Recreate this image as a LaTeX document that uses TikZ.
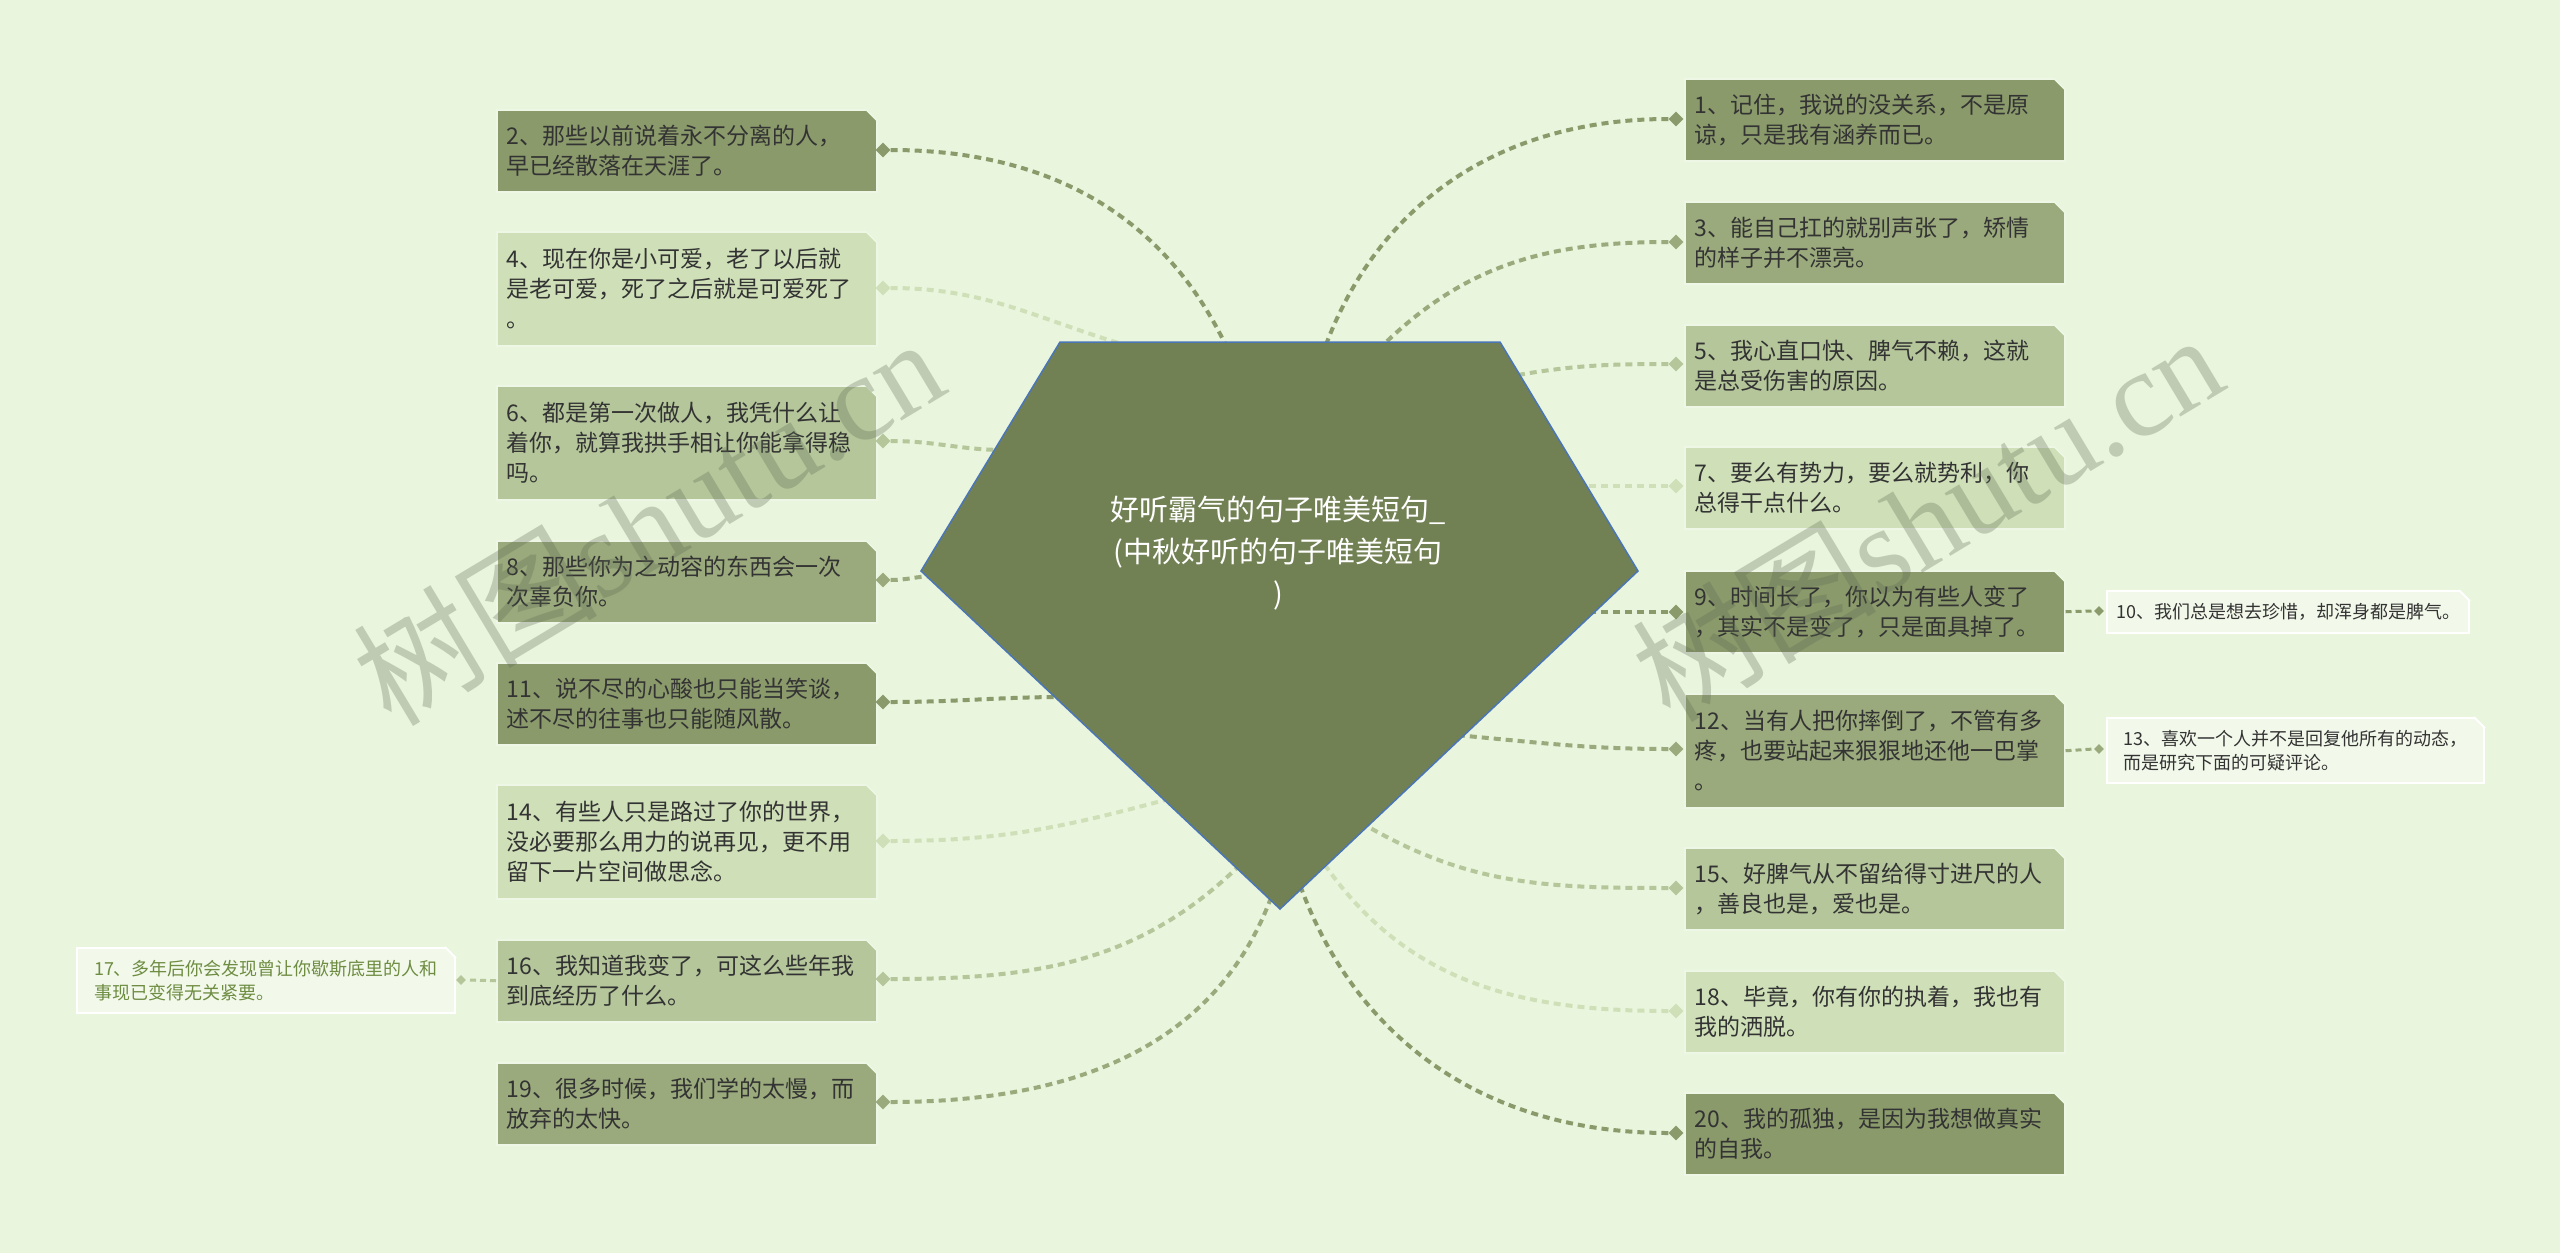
\documentclass[tikz,border=0pt]{standalone}
\usepackage{fontspec}
\setmainfont{Noto Sans CJK SC}
\newfontfamily\wmserif{Liberation Serif}
\usetikzlibrary{shapes.geometric}
\definecolor{bgc}{HTML}{E9F5DC}
\definecolor{cdark}{HTML}{8A9A6B}
\definecolor{colive}{HTML}{9AAA7C}
\definecolor{cmid}{HTML}{B4C69A}
\definecolor{clight}{HTML}{CFE0B8}
\definecolor{croot}{HTML}{718153}
\definecolor{cedge}{HTML}{4A76B8}
\definecolor{ctext}{HTML}{333333}
\definecolor{cbord}{HTML}{EEF6E6}
\definecolor{cgreentext}{HTML}{6E8C42}
\definecolor{cwm}{HTML}{5E6A52}
\newcommand\chamf[1]{%
  \fill[bgc] ([xshift=-12pt]#1.north east) -- ([xshift=1pt,yshift=1pt]#1.north east) -- ([yshift=-12pt]#1.north east) -- cycle;
  \draw[cbord, line width=1.5pt] ([xshift=-12pt]#1.north east) -- ([yshift=-12pt]#1.north east);}
\tikzset{
  box/.style={rectangle, draw=cbord, line width=1.5pt, text=ctext, text width=360pt,
    inner xsep=10pt, inner ysep=0pt, align=left, anchor=north west,
    font=\fontsize{23}{30}\selectfont},
  two/.style={minimum height=82pt},
  three/.style={minimum height=114pt},
  smallbox/.style={rectangle, draw=white, line width=2pt, fill=bgc!60!white, text=ctext,
    inner xsep=9pt, inner ysep=0pt, align=left, anchor=north west,
    font=\fontsize{18}{24}\selectfont},
  dia/.style={diamond, inner sep=0pt, minimum size=15pt},
  sdia/.style={diamond, inner sep=0pt, minimum size=10pt},
  link/.style={line width=4pt, dash pattern=on 7pt off 5pt},
  slink/.style={line width=3pt, dash pattern=on 6pt off 4pt},
  wm/.style={text=cwm, opacity=0.3, rotate=31, font=\fontsize{122}{122}\selectfont}
}
\begin{document}
\begin{tikzpicture}[x=1pt,y=-1pt]
\useasboundingbox (0,0) rectangle (2560,1253);
\fill[bgc] (0,0) rectangle (2560,1253);

% ---------- left nodes ----------
\node[box,two,fill=cdark] (n2) at (496,109) {2、那些以前说着永不分离的人，\\早已经散落在天涯了。};
\node[box,three,fill=clight] (n4) at (496,231) {4、现在你是小可爱，老了以后就\\是老可爱，死了之后就是可爱死了\\。};
\node[box,three,fill=cmid] (n6) at (496,385) {6、都是第一次做人，我凭什么让\\着你，就算我拱手相让你能拿得稳\\吗。};
\node[box,two,fill=colive] (n8) at (496,540) {8、那些你为之动容的东西会一次\\次辜负你。};
\node[box,two,fill=cdark] (n11) at (496,662) {11、说不尽的心酸也只能当笑谈，\\述不尽的往事也只能随风散。};
\node[box,three,fill=clight] (n14) at (496,784) {14、有些人只是路过了你的世界，\\没必要那么用力的说再见，更不用\\留下一片空间做思念。};
\node[box,two,fill=cmid] (n16) at (496,939) {16、我知道我变了，可这么些年我\\到底经历了什么。};
\node[box,two,fill=colive] (n19) at (496,1062) {19、很多时候，我们学的太慢，而\\放弃的太快。};

% ---------- right nodes ----------
\node[box,two,fill=cdark] (n1) at (1684,78) {1、记住，我说的没关系，不是原\\谅，只是我有涵养而已。};
\node[box,two,fill=colive] (n3) at (1684,201) {3、能自己扛的就别声张了，矫情\\的样子并不漂亮。};
\node[box,two,fill=cmid] (n5) at (1684,324) {5、我心直口快、脾气不赖，这就\\是总受伤害的原因。};
\node[box,two,fill=clight] (n7) at (1684,446) {7、要么有势力，要么就势利，你\\总得干点什么。};
\node[box,two,fill=cdark] (n9) at (1684,570) {9、时间长了，你以为有些人变了\\，其实不是变了，只是面具掉了。};
\node[box,three,fill=colive] (n12) at (1684,693) {12、当有人把你摔倒了，不管有多\\疼，也要站起来狠狠地还他一巴掌\\。};
\node[box,two,fill=cmid] (n15) at (1684,847) {15、好脾气从不留给得寸进尺的人\\，善良也是，爱也是。};
\node[box,two,fill=clight] (n18) at (1684,970) {18、毕竟，你有你的执着，我也有\\我的洒脱。};
\node[box,two,fill=cdark] (n20) at (1684,1092) {20、我的孤独，是因为我想做真实\\的自我。};

\foreach \n in {n1,n2,n3,n4,n5,n6,n7,n8,n9,n11,n12,n14,n15,n16,n18,n19,n20}{\chamf{\n}}

% ---------- small nodes ----------
\node[smallbox,minimum width=362pt,minimum height=42pt] (n10) at (2106,590) {10、我们总是想去珍惜，却浑身都是脾气。};
\node[smallbox,minimum width=377pt,minimum height=65pt] (n13) at (2106,717) {13、喜欢一个人并不是回复他所有的动态，\\而是研究下面的可疑评论。};
\node[smallbox,text=cgreentext,minimum width=378pt,minimum height=65pt] (n17) at (76,947) {17、多年后你会发现曾让你歇斯底里的人和\\事现已变得无关紧要。};
\foreach \n in {n10,n13,n17}{
  \fill[bgc] ([xshift=-11pt]\n.north east) -- ([xshift=2pt,yshift=2pt]\n.north east) -- ([yshift=-11pt]\n.north east) -- cycle;
  \draw[white, line width=2pt] ([xshift=-11pt]\n.north east) -- ([yshift=-11pt]\n.north east);}

% ---------- diamonds ----------
\node[dia,fill=cdark] (d2) at (883,150) {};
\node[dia,fill=clight] (d4) at (883,288) {};
\node[dia,fill=cmid] (d6) at (883,441) {};
\node[dia,fill=colive] (d8) at (883,580) {};
\node[dia,fill=cdark] (d11) at (883,702) {};
\node[dia,fill=clight] (d14) at (883,841) {};
\node[dia,fill=cmid] (d16) at (883,979) {};
\node[dia,fill=colive] (d19) at (883,1102) {};
\node[dia,fill=cdark] (d1) at (1676,119) {};
\node[dia,fill=colive] (d3) at (1676,242) {};
\node[dia,fill=cmid] (d5) at (1676,364) {};
\node[dia,fill=clight] (d7) at (1676,486) {};
\node[dia,fill=cdark] (d9) at (1676,612) {};
\node[dia,fill=colive] (d12) at (1676,749) {};
\node[dia,fill=cmid] (d15) at (1676,888) {};
\node[dia,fill=clight] (d18) at (1676,1011) {};
\node[dia,fill=cdark] (d20) at (1676,1133) {};
\node[sdia,fill=cdark] (d10) at (2099,611) {};
\node[sdia,fill=colive] (d13) at (2099,749) {};
\node[sdia,fill=cmid] (d17) at (461,980) {};

% ---------- attachment points on the root ----------
\coordinate (p2) at (1228,350);
\coordinate (p4) at (1143,350);
\coordinate (p6) at (1005,450);
\coordinate (p8) at (935,576);
\coordinate (p11) at (1065,697);
\coordinate (p14) at (1165,800);
\coordinate (p16) at (1245,860);
\coordinate (p19) at (1272,895);
\coordinate (p1) at (1324,350);
\coordinate (p3) at (1378,350);
\coordinate (p5) at (1512,376);
\coordinate (p7) at (1585,486);
\coordinate (p9) at (1585,612);
\coordinate (p12) at (1455,735);
\coordinate (p15) at (1365,825);
\coordinate (p18) at (1325,865);
\coordinate (p20) at (1300,885);

% ---------- connectors ----------
\draw[link,cdark] (d2.east) to[out=0,in=115] (p2);
\draw[link,clight] (d4.east) to[out=0,in=165] (p4);
\draw[link,cmid] (d6.east) to[out=0,in=180] (p6);
\draw[link,colive] (d8.east) to[out=0,in=180] (p8);
\draw[link,cdark] (d11.east) to[out=0,in=180] (p11);
\draw[link,clight] (d14.east) to[out=0,in=195] (p14);
\draw[link,cmid] (d16.east) to[out=0,in=225] (p16);
\draw[link,colive] (d19.east) to[out=0,in=250] (p19);
\draw[link,cdark] (d1.west) to[out=180,in=70] (p1);
\draw[link,colive] (d3.west) to[out=180,in=45] (p3);
\draw[link,cmid] (d5.west) to[out=180,in=10] (p5);
\draw[link,clight] (d7.west) to[out=180,in=0] (p7);
\draw[link,cdark] (d9.west) to[out=180,in=0] (p9);
\draw[link,colive] (d12.west) to[out=180,in=-5] (p12);
\draw[link,cmid] (d15.west) to[out=180,in=-30] (p15);
\draw[link,clight] (d18.west) to[out=180,in=-55] (p18);
\draw[link,cdark] (d20.west) to[out=180,in=-70] (p20);
\draw[slink,cdark] (n9.east) -- (d10.west);
\draw[slink,colive] (n12.east) -- (d13.west);
\draw[slink,cmid] (n16.west) -- (d17.east);

% ---------- root ----------
\fill[croot] (1060,342) -- (1500,342) -- (1638,571) -- (1280,909) -- (921,571) -- cycle;
\draw[cedge, line width=1.5pt] (1060,342) -- (1500,342) -- (1638,571) -- (1280,909) -- (921,571) -- cycle;
\node[text=white, align=center, font=\fontsize{29}{42}\selectfont] (root) at (1278,553) {好听霸气的句子唯美短句\_\\(中秋好听的句子唯美短句\\)};

% ---------- watermarks ----------
\node[wm] (wm1) at (648,520) {树图{\wmserif shutu.cn}};
\node[wm] (wm2) at (1927,516) {树图{\wmserif shutu.cn}};
\end{tikzpicture}
\end{document}
